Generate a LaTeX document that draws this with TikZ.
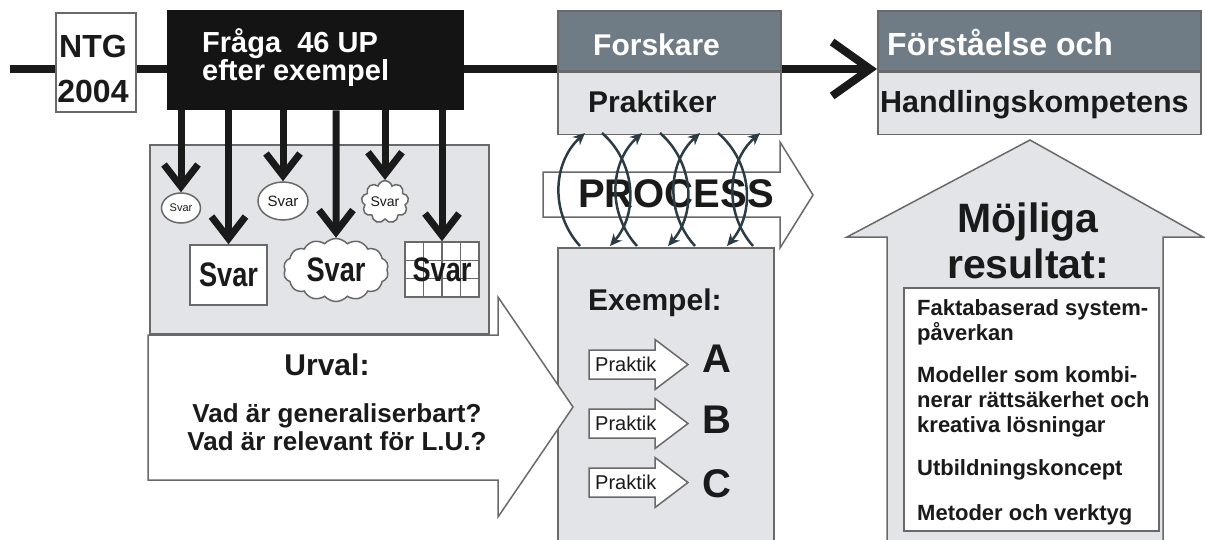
\documentclass[tikz,border=0pt]{standalone}
\usepackage{fontspec}
\setmainfont{Liberation Sans}
\usepackage{graphicx}
\usetikzlibrary{arrows.meta, shapes.geometric, shapes.symbols, positioning}

\definecolor{headgray}{RGB}{112,124,133}
\definecolor{panelgray}{RGB}{226,228,232}
\definecolor{framegray}{RGB}{105,105,105}
\definecolor{inkdark}{RGB}{26,26,26}
\definecolor{slate}{RGB}{44,60,68}

\newcommand{\pxfont}[2]{\fontsize{#1}{#2}\selectfont}
\newcommand{\svarbig}{\scalebox{0.8}[1]{\pxfont{34}{34}\bfseries Svar}}

\tikzset{
  frame/.style={draw=framegray, line width=1.5pt},
  panel/.style={frame, fill=panelgray, anchor=north west, inner sep=0pt},
  timeline/.style={draw=inkdark, line width=8pt},
  drop/.style={draw=inkdark, line width=7pt, -{Straight Barb[length=22pt,width=34pt]}},
  turnarc/.style={draw=slate, line width=2.5pt, -{Stealth[length=12pt,width=11pt]}},
  txt/.style={inner sep=0pt, text=inkdark},
  svarsmall/.style={frame, fill=white, inner sep=0pt, text=inkdark},
}

\begin{document}
\begin{tikzpicture}[x=1pt, y=-1pt]
    \useasboundingbox (0,0) rectangle (1205,539);

    % examples column and the selection arrow
    \node[panel, minimum width=216pt, minimum height=300pt] (exbox) at (557,247) {};
    \filldraw[frame, fill=white] (148,335) -- (498,335) -- (498,297) -- (573,407)
        -- (498,517) -- (498,480) -- (148,480) -- cycle;
    \node[panel, minimum width=339pt, minimum height=189pt] (pool) at (149,144) {};

    % results arrow
    \filldraw[frame, fill=panelgray] (1030,140) -- (1203,237) -- (1163,237) -- (1163,545)
        -- (887,545) -- (887,237) -- (847,237) -- cycle;
    \node[frame, fill=white, anchor=north west, minimum width=255pt, minimum height=243pt] (resbox) at (903,287) {};

    % top row
    \node[frame, fill=white, anchor=north west, minimum width=80pt, minimum height=99pt] (ntg) at (55,12) {};
    \node[fill=black!92, anchor=north west, minimum width=297pt, minimum height=100pt] (fraga) at (167,10) {};
    \node[frame, fill=headgray, anchor=north west, minimum width=223pt, minimum height=60pt] (forsk) at (557,10) {};
    \node[frame, fill=panelgray, minimum width=223pt, minimum height=62pt, below=0pt of forsk] (prakt) {};
    \node[frame, fill=headgray, anchor=north west, minimum width=323pt, minimum height=60pt] (forst) at (877,10) {};
    \node[frame, fill=panelgray, minimum width=323pt, minimum height=62pt, below=0pt of forst] (handl) {};

    \coordinate (start) at (10,69);
    \draw[timeline] (start) -- (start -| ntg.west);
    \draw[timeline] (start -| ntg.east) -- (start -| fraga.west);
    \draw[timeline] (start -| fraga.east) -- (start -| prakt.west);
    \draw[timeline, -{Straight Barb[length=38pt,width=54pt]}] (start -| prakt.east) -- (start -| handl.west);

    \node[txt, align=center, anchor=base, font=\pxfont{32}{45}\bfseries] (ntgtxt) at (93,102) {NTG\\2004};
    \node[txt, text=white, align=left, anchor=base west, font=\pxfont{29}{28}\bfseries] (fragatxt) at (202,80) {Fråga\ \ 46 UP\\efter exempel};
    \node[txt, text=white, anchor=base west, font=\pxfont{30}{30}\bfseries] (forsktxt) at (593,55) {Forskare};
    \node[txt, anchor=base west, font=\pxfont{30}{30}\bfseries] (prakttxt) at (588,112) {Praktiker};
    \node[txt, text=white, anchor=base west, font=\pxfont{32}{32}\bfseries] (forsttxt) at (887,55) {Förståelse och};
    \node[txt, anchor=base west, font=\pxfont{30.5}{30.5}\bfseries] (handltxt) at (880,112) {Handlingskompetens};

    % answers
    \node[svarsmall, ellipse, minimum width=39pt, minimum height=30pt, font=\pxfont{11}{11}] (s1) at (181,208) {Svar};
    \node[svarsmall, minimum width=77pt, minimum height=60pt] (s2) at (228.5,275) {\svarbig};
    \node[svarsmall, ellipse, minimum width=50pt, minimum height=38pt, font=\pxfont{15}{15}] (s3) at (283,201) {Svar};
    \node[svarsmall, cloud, cloud puffs=14, cloud puff arc=100, aspect=1.7, minimum width=105pt, minimum height=63pt] (s4) at (336,270) {\svarbig};
    \node[svarsmall, cloud, cloud puffs=9, aspect=1.2, minimum width=43pt, minimum height=37pt, font=\pxfont{14}{14}] (s5) at (385,202) {Svar};
    \node[svarsmall, minimum width=74pt, minimum height=55pt] (s6) at (442,269.5) {};
    \foreach \gx in {423.5,442,460.5}
        \draw[framegray, line width=1.2pt] (\gx,242) -- (\gx,297);
    \foreach \gy in {260.3,278.7}
        \draw[framegray, line width=1.2pt] (405,\gy) -- (479,\gy);
    \node[txt] (s6txt) at (s6) {\svarbig};

    \draw[drop] (fraga.south -| s1) -- (s1);
    \draw[drop] (fraga.south -| s2) -- (s2);
    \draw[drop] (fraga.south -| s3) -- (s3);
    \draw[drop] (fraga.south -| s4) -- (s4);
    \draw[drop] (fraga.south -| s5) -- (s5);
    \draw[drop] (fraga.south -| s6) -- (s6);

    \node[txt, anchor=base, font=\pxfont{30}{30}\bfseries] (urval) at (327,375) {Urval:};
    \node[txt, align=center, anchor=base, font=\pxfont{26}{28}\bfseries] (urvalq) at (337,450) {Vad är generaliserbart?\\Vad är relevant för L.U.?};

    % process
    \filldraw[frame, fill=white] (543,172) -- (780,172) -- (780,142) -- (813,195)
        -- (780,248) -- (780,217) -- (543,217) -- cycle;
    \node[txt, anchor=base west, font=\pxfont{40}{40}\bfseries] (proc) at (578,207) {PROCESS};
    \draw[turnarc] (580,246) to[bend left=45] (585,133);
    \draw[turnarc] (637,246) to[bend left=45] (642,133);
    \draw[turnarc] (695,246) to[bend left=45] (700,133);
    \draw[turnarc] (753,246) to[bend left=45] (760,133);
    \draw[turnarc] (602,133) to[bend left=45] (610,246);
    \draw[turnarc] (660,133) to[bend left=45] (668,246);
    \draw[turnarc] (718,133) to[bend left=45] (727,246);

    % examples
    \node[txt, anchor=base west, font=\pxfont{30}{30}\bfseries] (extxt) at (588,310) {Exempel:};
    \foreach \yc/\yb/\abc in {364.5/372/A, 423.5/433/B, 482.5/497/C} {
        \filldraw[frame, fill=white] (589,\yc-14.5) -- (655,\yc-14.5) -- (655,\yc-25) -- (688,\yc)
            -- (655,\yc+25) -- (655,\yc+14.5) -- (589,\yc+14.5) -- cycle;
        \node[txt, anchor=base west, font=\pxfont{20}{20}] (prak\abc) at (595,\yc+7) {Praktik};
        \node[txt, anchor=base, font=\pxfont{40}{40}\bfseries] (case\abc) at (717,\yb) {\abc};
    }

    % results
    \node[txt, align=center, anchor=base, font=\pxfont{41}{46}\bfseries] (mojl) at (1028,278) {Möjliga\\resultat:};
    \node[txt, align=left, anchor=base west, font=\pxfont{22}{25}\bfseries] (reslist) at (917,520)
        {Faktabaserad system-\\påverkan\\[17pt]Modeller som kombi-\\nerar rättsäkerhet och\\kreativa lösningar\\[18pt]Utbildningskoncept\\[20pt]Metoder och verktyg};
\end{tikzpicture}
\end{document}
